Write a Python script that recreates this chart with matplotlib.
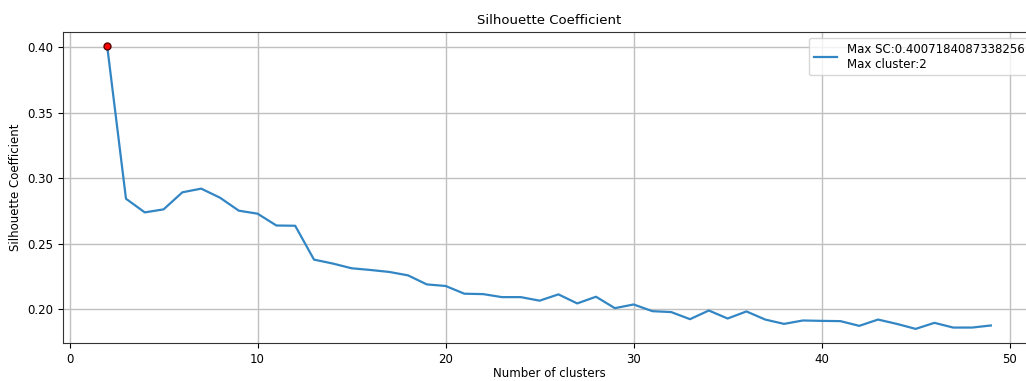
import matplotlib
matplotlib.use("Agg")
import matplotlib.pyplot as plt

# Silhouette scores for k = 2 .. 49 clusters
n_clusters = list(range(2, 50))
sc_scores = [
    0.4007184087338256, 0.2844, 0.2740, 0.2763, 0.2893, 0.2921, 0.2852, 0.2753,
    0.2730, 0.2640, 0.2638, 0.2380, 0.2350, 0.2314, 0.2301, 0.2286, 0.2260,
    0.2191, 0.2179, 0.2120, 0.2117, 0.2094, 0.2094, 0.2067, 0.2115, 0.2046,
    0.2097, 0.2010, 0.2038, 0.1987, 0.1980, 0.1926, 0.1992, 0.1931, 0.1985,
    0.1923, 0.1890, 0.1916, 0.1913, 0.1911, 0.1875, 0.1923, 0.1890, 0.1852,
    0.1898, 0.1862, 0.1862, 0.1878,
]

best_idx = max(range(len(sc_scores)), key=lambda i: sc_scores[i])
best_k = n_clusters[best_idx]
best_sc = sc_scores[best_idx]

plt.rcParams["font.family"] = ["DejaVu Sans"]
plt.rcParams["font.size"] = 8.5

fig = plt.figure(figsize=(10.26, 3.81), dpi=100)
ax = fig.add_axes([0.0614, 0.0997, 0.9474, 0.8163])

ax.plot(n_clusters, sc_scores, color="#3386c4", linewidth=1.6,
        label=f"Max SC:{best_sc}\nMax cluster:{best_k}")
ax.plot(best_k, best_sc, "o", color="red", markeredgecolor="#5a0000",
        markersize=5, zorder=3)

ax.set_title("Silhouette Coefficient", fontsize=9.5)
ax.set_xlabel("Number of clusters", labelpad=1)
ax.set_ylabel("Silhouette Coefficient")
ax.grid(True, color="#c0c0c0", linewidth=1)
for spine in ax.spines.values():
    spine.set_color("#333333")
ax.legend(loc="upper right")

fig.savefig("out.png", dpi=100)
